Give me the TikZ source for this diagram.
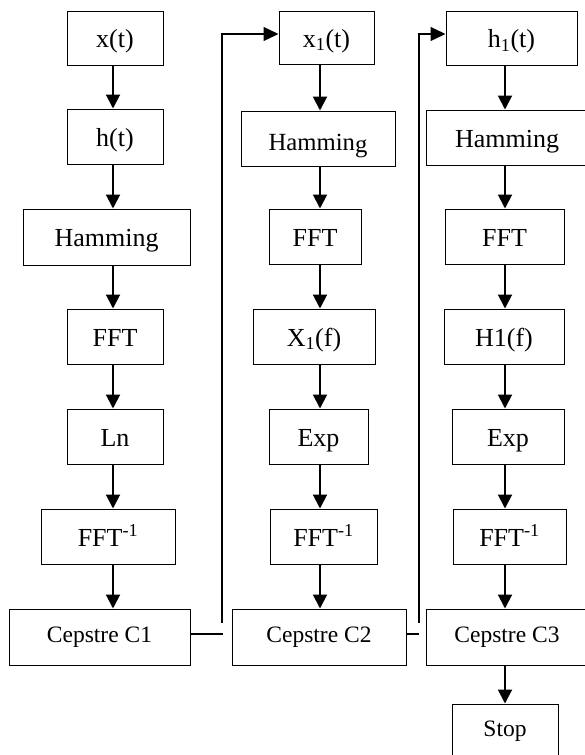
\documentclass[tikz,border=0pt]{standalone}
\usepackage{fontspec}
\setmainfont{Liberation Serif}
\usetikzlibrary{arrows.meta}
\begin{document}
\begin{tikzpicture}[x=1pt,y=-1pt,
  blk/.style={draw, line width=1pt, inner sep=0pt, minimum height=55pt,
    text height=19pt, text depth=0pt,
    font=\fontsize{26}{30}\selectfont},
  smallblk/.style={draw, line width=1pt, inner sep=0pt, minimum height=55pt,
    font=\fontsize{23.5}{28}\selectfont},
  arr/.style={line width=2pt, -{Triangle[length=14pt,width=14pt]}},
  loopline/.style={line width=1.3pt, -{Triangle[length=15pt,width=14pt]}},
  thinline/.style={line width=1.2pt}]
\useasboundingbox (0,0) rectangle (585,755);
% column 1
\node[blk, minimum width=96pt, minimum height=54pt] (xt) at (115,38) {x(t)};
\node[blk, minimum width=96pt] (ht) at (115,136.5) {h(t)};
\node[blk, minimum width=167pt, minimum height=56pt] (ham1) at (106.5,237) {Hamming};
\node[blk, minimum width=96pt] (fft1) at (115,336.5) {FFT};
\node[blk, minimum width=96pt] (ln) at (115,436.5) {Ln};
\node[blk, minimum width=134pt] (ifft1) at (108,536.5) {FFT\textsuperscript{-1}};
\node[smallblk, minimum width=181pt, minimum height=56pt] (c1) at (99.5,637) {Cepstre C1};
% column 2
\node[blk, minimum width=95pt, minimum height=53pt] (x1t) at (326.5,37.5) {x\textsubscript{1}(t)};
\node[blk, minimum width=154pt, text height=24pt, font=\fontsize{24.7}{29}\selectfont] (ham2) at (318,138.5) {Hammin\raisebox{-2pt}{g}};
\node[blk, minimum width=92pt] (fft2) at (315,236.5) {FFT};
\node[blk, minimum width=122pt] (X1f) at (314,336.5) {X\textsubscript{1}(f)};
\node[blk, minimum width=99pt] (exp2) at (318.5,436.5) {Exp};
\node[blk, minimum width=107pt] (ifft2) at (323.5,536.5) {FFT\textsuperscript{-1}};
\node[smallblk, minimum width=174pt, minimum height=56pt] (c2) at (319,637) {Cepstre C2};
% column 3
\node[blk, minimum width=131pt, minimum height=54pt] (h1t) at (511.5,38) {h\textsubscript{1}(t)};
\node[blk, minimum width=162pt] (ham3) at (507,137.5) {Hamming};
\node[blk, minimum width=119pt] (fft3) at (504.5,236.5) {FFT};
\node[blk, minimum width=120pt] (H1f) at (504,336.5) {H1(f)};
\node[blk, minimum width=112pt] (exp3) at (508,436.5) {Exp};
\node[blk, minimum width=113pt] (ifft3) at (509.5,536.5) {FFT\textsuperscript{-1}};
\node[smallblk, minimum width=162pt, minimum height=56pt] (c3) at (507,637) {Cepstre C3};
\node[smallblk, minimum width=106pt] (stop) at (505,731.5) {Stop};
% shaft coordinates
\coordinate (s1) at (113,0);
\coordinate (s2) at (320,0);
\coordinate (s3) at (505,0);
% column 1 arrows
\draw[arr] (xt.south -| s1) -- (ht.north -| s1);
\draw[arr] (ht.south -| s1) -- (ham1.north -| s1);
\draw[arr] (ham1.south -| s1) -- (fft1.north -| s1);
\draw[arr] (fft1.south -| s1) -- (ln.north -| s1);
\draw[arr] (ln.south -| s1) -- (ifft1.north -| s1);
\draw[arr] (ifft1.south -| s1) -- (c1.north -| s1);
% column 2 arrows
\draw[arr] (x1t.south -| s2) -- (ham2.north -| s2);
\draw[arr] (ham2.south -| s2) -- (fft2.north -| s2);
\draw[arr] (fft2.south -| s2) -- (X1f.north -| s2);
\draw[arr] (X1f.south -| s2) -- (exp2.north -| s2);
\draw[arr] (exp2.south -| s2) -- (ifft2.north -| s2);
\draw[arr] (ifft2.south -| s2) -- (c2.north -| s2);
% column 3 arrows
\draw[arr] (h1t.south -| s3) -- (ham3.north -| s3);
\draw[arr] (ham3.south -| s3) -- (fft3.north -| s3);
\draw[arr] (fft3.south -| s3) -- (H1f.north -| s3);
\draw[arr] (H1f.south -| s3) -- (exp3.north -| s3);
\draw[arr] (exp3.south -| s3) -- (ifft3.north -| s3);
\draw[arr] (ifft3.south -| s3) -- (c3.north -| s3);
\draw[arr] (c3.south -| s3) -- (stop.north -| s3);
% loop-back connectors
\coordinate (j1) at (223,634);
\coordinate (v1b) at (222,623);
\coordinate (v1t) at (222,34);
\draw[thinline] (c1.east |- j1) -- (j1);
\draw[loopline] (v1b) -- (v1t) -- (x1t.west |- v1t);
\coordinate (j2) at (419,634);
\coordinate (v2b) at (419,623);
\coordinate (v2t) at (419,34);
\draw[thinline] (c2.east |- j2) -- (j2);
\draw[loopline] (v2b) -- (v2t) -- (h1t.west |- v2t);
\end{tikzpicture}
\end{document}
